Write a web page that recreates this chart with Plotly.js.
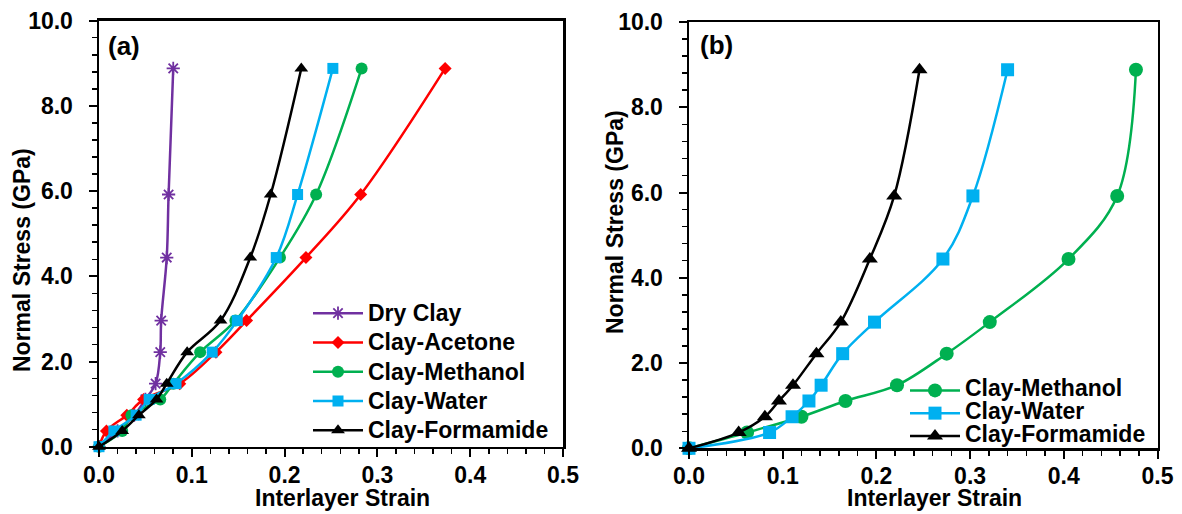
<!DOCTYPE html>
<html>
<head>
<meta charset="utf-8">
<script src="https://cdn.plot.ly/plotly-3.0.1.min.js"></script>
<style>html,body{margin:0;padding:0;background:#fff;}#chart{width:1182px;height:514px;}</style>
</head>
<body>
<div id="chart"></div>
<script>
// Normal stress levels (GPa), shared by all series
var stress = [0, 0.37, 0.74, 1.11, 1.48, 2.22, 2.96, 4.44, 5.92, 8.88];

// Panel (a): interlayer strain
var dryClayA   = [0, 0.020, 0.038, 0.050, 0.061, 0.066, 0.067, 0.073, 0.075, 0.080];
var acetoneA   = [0, 0.008, 0.030, 0.048, 0.087, 0.126, 0.159, 0.223, 0.282, 0.373];
var methanolA  = [0, 0.025, 0.035, 0.066, 0.080, 0.109, 0.147, 0.195, 0.234, 0.283];
var waterA     = [0, 0.016, 0.040, 0.054, 0.083, 0.122, 0.149, 0.191, 0.214, 0.252];
var formamideA = [0, 0.025, 0.043, 0.062, 0.073, 0.095, 0.131, 0.163, 0.185, 0.218];

// Panel (b): interlayer strain
var methanolB  = [0, 0.062, 0.120, 0.167, 0.222, 0.275, 0.321, 0.405, 0.457, 0.477];
var waterB     = [0, 0.086, 0.110, 0.128, 0.141, 0.164, 0.198, 0.271, 0.303, 0.340];
var formamideB = [0, 0.053, 0.081, 0.096, 0.111, 0.136, 0.162, 0.193, 0.219, 0.246];

var namesA = ['Dry Clay', 'Clay-Acetone', 'Clay-Methanol', 'Clay-Water', 'Clay-Formamide'];
var namesB = ['Clay-Methanol', 'Clay-Water', 'Clay-Formamide'];
var xTicks = [0, 0.1, 0.2, 0.3, 0.4, 0.5];
var yTicks = [0, 2, 4, 6, 8, 10];
var xTitle = 'Interlayer Strain';
var yTitle = 'Normal Stress (GPa)';

var FONT = 'Liberation Sans, Arial, sans-serif';
var FS = 23;
var C = {purple:'#7030A0', red:'#FF0000', green:'#00B050', blue:'#00B0F0', black:'#000000'};

function lbl(t){ return '<span style="font-size:' + FS + 'px">' + t + '</span>'; }

function tr(x, name, color, sym, size, xa, ya, leg){
  var m = {symbol: sym, size: size, color: color, line: {width: 0, color: color}};
  if (sym === 'asterisk') { m.line = {width: 1.8, color: color}; }
  return {
    type: 'scatter', mode: 'lines+markers', x: x, y: stress, name: lbl(name),
    xaxis: xa, yaxis: ya, legend: leg, cliponaxis: false,
    line: {color: color, width: 2.5, shape: 'spline', smoothing: 1},
    marker: m, hoverinfo: 'x+y'
  };
}

var data = [
  tr(dryClayA,   namesA[0], C.purple, 'asterisk',    11, 'x', 'y', 'legend'),
  tr(acetoneA,   namesA[1], C.red,    'diamond',     10, 'x', 'y', 'legend'),
  tr(methanolA,  namesA[2], C.green,  'circle',      12, 'x', 'y', 'legend'),
  tr(waterA,     namesA[3], C.blue,   'square',      11, 'x', 'y', 'legend'),
  tr(formamideA, namesA[4], C.black,  'triangle-up', 12, 'x', 'y', 'legend'),
  tr(methanolB,  namesB[0], C.green,  'circle',      14, 'x2', 'y2', 'legend2'),
  tr(waterB,     namesB[1], C.blue,   'square',      13, 'x2', 'y2', 'legend2'),
  tr(formamideB, namesB[2], C.black,  'triangle-up', 14, 'x2', 'y2', 'legend2')
];

var W = 1182, H = 514;
var domA = {x: [99/W, 563/W], y: [1-446.7/H, 1-20.7/H]};
var domB = {x: [689/W, 1157.5/W], y: [1-448.3/H, 1-22/H]};
var tickFont = {family: FONT, size: FS, color: '#000', weight: 'bold'};

function xMain(dom, anchor){
  return {domain: dom, anchor: anchor, range: [0, 0.5], autorange: false,
    tickvals: xTicks, tickformat: '.1f', ticks: 'outside', ticklen: 8, tickwidth: 2, tickcolor: '#000',
    minor: {dtick: 0.02, tick0: 0, ticks: 'outside', ticklen: 5, tickwidth: 1.5, tickcolor: '#000'},
    showline: true, linewidth: 2.5, linecolor: '#000', mirror: true,
    showgrid: false, zeroline: false, tickfont: tickFont, ticklabelstandoff: -2, fixedrange: true};
}
function yMain(dom, anchor){
  return {domain: dom, anchor: anchor, range: [0, 10], autorange: false,
    tickvals: yTicks, tickformat: '.1f', ticks: 'outside', ticklen: 8, tickwidth: 2, tickcolor: '#000',
    minor: {dtick: 0.4, tick0: 0, ticks: 'outside', ticklen: 5, tickwidth: 1.5, tickcolor: '#000'},
    showline: true, linewidth: 2.5, linecolor: '#000', mirror: true,
    showgrid: false, zeroline: false, tickfont: tickFont, ticklabelstandoff: 11, fixedrange: true};
}
function xOver(over, anchor){
  return {overlaying: over, anchor: anchor, range: [0, 0.5], autorange: false, tickvals: xTicks,
    ticks: 'inside', ticklen: 8, tickwidth: 2, tickcolor: '#000', showticklabels: false,
    showline: false, showgrid: false, zeroline: false, fixedrange: true};
}
function yOver(over, anchor){
  return {overlaying: over, anchor: anchor, range: [0, 10], autorange: false, tickvals: yTicks,
    ticks: 'inside', ticklen: 8, tickwidth: 2, tickcolor: '#000', showticklabels: false,
    showline: false, showgrid: false, zeroline: false, fixedrange: true};
}

function ann(text, x, y, angle, size, xanchor){
  return {text: text, xref: 'paper', yref: 'paper', x: x, y: y, showarrow: false,
    xanchor: xanchor || 'center', yanchor: 'middle', textangle: angle || 0,
    font: {family: FONT, size: size || FS, color: '#000', weight: 'bold'}};
}

var layout = {
  width: W, height: H, margin: {l: 0, r: 0, t: 0, b: 0},
  paper_bgcolor: '#fff', plot_bgcolor: 'rgba(0,0,0,0)',
  font: {family: FONT, color: '#000'},
  xaxis: xMain(domA.x, 'y'), yaxis: yMain(domA.y, 'x'),
  xaxis2: xMain(domB.x, 'y2'), yaxis2: yMain(domB.y, 'x2'),
  xaxis3: xOver('x', 'y'), yaxis3: yOver('y', 'x'),
  xaxis4: xOver('x2', 'y2'), yaxis4: yOver('y2', 'x2'),
  legend: {x: 308/W, y: 1-293.5/H, xanchor: 'left', yanchor: 'top', bgcolor: 'rgba(0,0,0,0)',
    font: {family: FONT, size: 20.2, color: '#000', weight: 'bold'}, itemwidth: 50, tracegroupgap: 0},
  legend2: {x: 905/W, y: 1-374/H, xanchor: 'left', yanchor: 'top', bgcolor: 'rgba(0,0,0,0)',
    font: {family: FONT, size: 15.2, color: '#000', weight: 'bold'}, itemwidth: 50, tracegroupgap: 0},
  showlegend: true,
  annotations: [
    ann(xTitle, 342/W, 1-498/H),
    ann(yTitle, 22/W, 1-260/H, -90),
    ann(xTitle, 934/W, 1-498/H),
    ann(yTitle, 615/W, 1-222/H, -90),
    ann('(a)', 106/W, 1-46/H, 0, 26, 'left'),
    ann('(b)', 698/W, 1-45/H, 0, 26, 'left')
  ]
};

Plotly.newPlot('chart', data, layout, {displayModeBar: false, staticPlot: true});
</script>
</body>
</html>
